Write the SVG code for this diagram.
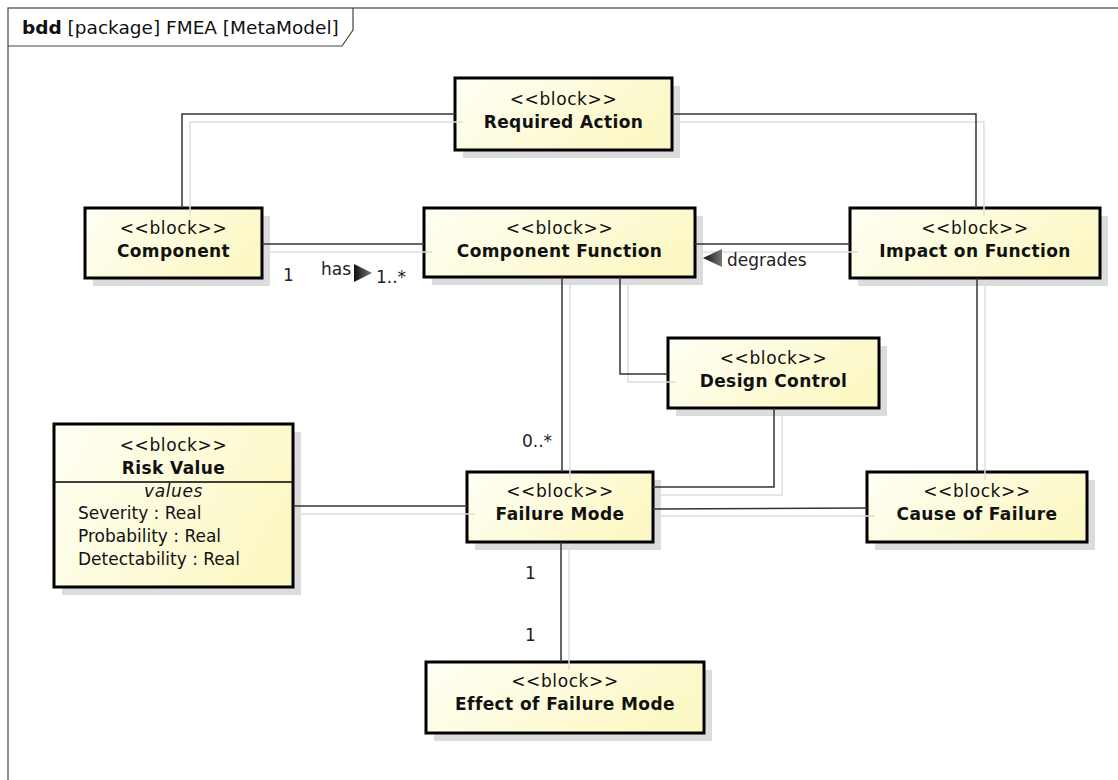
<svg xmlns="http://www.w3.org/2000/svg" width="1118" height="780" viewBox="0 0 1118 780">
<style>
.shadow{fill:#dcdcdc;stroke:none}
.box{fill:url(#g);stroke:#000;stroke-width:3}
.st{font-family:"DejaVu Sans",sans-serif;font-size:17px;fill:#111;text-anchor:middle;letter-spacing:0.6px}
.nm{font-family:"DejaVu Sans",sans-serif;font-size:17px;font-weight:bold;fill:#111;text-anchor:middle;letter-spacing:0.4px}
.at{font-family:"DejaVu Sans",sans-serif;font-size:17px;fill:#111}
.lb{font-family:"DejaVu Sans",sans-serif;font-size:17px;fill:#222}
.ln{fill:none;stroke:#333;stroke-width:1.5}
.ls{fill:none;stroke:#dedede;stroke-width:1.5}
</style>
<defs>
<linearGradient id="g" x1="0" y1="0" x2="1" y2="0.4">
<stop offset="0" stop-color="#fffff6"/>
<stop offset="1" stop-color="#fcf8c6"/>
</linearGradient>
<linearGradient id="tg" x1="0" y1="0" x2="1" y2="0">
<stop offset="0" stop-color="#111"/>
<stop offset="1" stop-color="#777"/>
</linearGradient>
</defs>
<rect width="1118" height="780" fill="#fff"/>
<g id="frame">
<rect x="8" y="8" width="1130" height="790" fill="none" stroke="#444" stroke-width="1.2"/>
<path d="M8,46 H342 L353,30 V8" fill="none" stroke="#444" stroke-width="1.2"/>
<text x="22" y="34" font-family="DejaVu Sans,sans-serif" font-size="18.5" fill="#111"><tspan font-weight="bold">bdd</tspan> [package] FMEA [MetaModel]</text>
</g>
<g id="node-required-action">
<rect class="shadow" x="463" y="86" width="217" height="72"/>
<rect class="box" x="455" y="78" width="217" height="72"/>
<text class="st" x="563.5" y="105">&lt;&lt;block&gt;&gt;</text>
<text class="nm" x="563.5" y="128">Required Action</text>
</g>
<g id="node-component">
<rect class="shadow" x="93" y="216" width="177" height="70"/>
<rect class="box" x="85" y="208" width="177" height="70"/>
<text class="st" x="173.5" y="234">&lt;&lt;block&gt;&gt;</text>
<text class="nm" x="173.5" y="257">Component</text>
</g>
<g id="node-component-function">
<rect class="shadow" x="432" y="216" width="271" height="69"/>
<rect class="box" x="424" y="208" width="271" height="69"/>
<text class="st" x="559.5" y="234">&lt;&lt;block&gt;&gt;</text>
<text class="nm" x="559.5" y="257">Component Function</text>
</g>
<g id="node-impact-on-function">
<rect class="shadow" x="858" y="216" width="250" height="70"/>
<rect class="box" x="850" y="208" width="250" height="70"/>
<text class="st" x="975" y="234">&lt;&lt;block&gt;&gt;</text>
<text class="nm" x="975" y="257">Impact on Function</text>
</g>
<g id="node-design-control">
<rect class="shadow" x="676" y="346" width="211" height="70"/>
<rect class="box" x="668" y="338" width="211" height="70"/>
<text class="st" x="773.5" y="364">&lt;&lt;block&gt;&gt;</text>
<text class="nm" x="773.5" y="387">Design Control</text>
</g>
<g id="node-risk-value">
<rect class="shadow" x="62" y="432" width="239" height="163"/>
<rect class="box" x="54" y="424" width="239" height="163"/>
<line x1="54" y1="482" x2="293" y2="482" stroke="#000" stroke-width="1.5"/>
<text class="st" x="173.5" y="451">&lt;&lt;block&gt;&gt;</text>
<text class="nm" x="173.5" y="474">Risk Value</text>
<text class="st" x="173.5" y="497" font-style="italic">values</text>
<text class="at" x="78" y="519">Severity : Real</text>
<text class="at" x="78" y="542">Probability : Real</text>
<text class="at" x="78" y="565">Detectability : Real</text>
</g>
<g id="node-failure-mode">
<rect class="shadow" x="475" y="480" width="186" height="70"/>
<rect class="box" x="467" y="472" width="186" height="70"/>
<text class="st" x="560" y="497">&lt;&lt;block&gt;&gt;</text>
<text class="nm" x="560" y="520">Failure Mode</text>
</g>
<g id="node-cause-of-failure">
<rect class="shadow" x="875" y="480" width="220" height="70"/>
<rect class="box" x="867" y="472" width="220" height="70"/>
<text class="st" x="977" y="497">&lt;&lt;block&gt;&gt;</text>
<text class="nm" x="977" y="520">Cause of Failure</text>
</g>
<g id="node-effect-of-failure-mode">
<rect class="shadow" x="434" y="670" width="278" height="71"/>
<rect class="box" x="426" y="662" width="278" height="71"/>
<text class="st" x="565" y="687">&lt;&lt;block&gt;&gt;</text>
<text class="nm" x="565" y="710">Effect of Failure Mode</text>
</g>
<g id="connectors">
<path class="ls" d="M190,216 V122 H463"/>
<path class="ls" d="M680,122 H984 V216"/>
<path class="ls" d="M270,252 H432"/>
<path class="ls" d="M703,252 H858"/>
<path class="ls" d="M570,285 V480"/>
<path class="ls" d="M628,285 V382 H676"/>
<path class="ls" d="M782,416 V495 H661"/>
<path class="ls" d="M985,286 V480"/>
<path class="ls" d="M661,516 H875"/>
<path class="ls" d="M301,514 H475"/>
<path class="ls" d="M569,550 V670"/>
<path class="ln" d="M182,208 V114 H455"/>
<path class="ln" d="M672,114 H976 V208"/>
<path class="ln" d="M262,244 H424"/>
<path class="ln" d="M695,244 H850"/>
<path class="ln" d="M562,277 V472"/>
<path class="ln" d="M620,277 V374 H668"/>
<path class="ln" d="M774,408 V487 H653"/>
<path class="ln" d="M977,278 V472"/>
<path class="ln" d="M653,509 L867,508"/>
<path class="ln" d="M293,506 H467"/>
<path class="ln" d="M561,542 V662"/>
<text class="lb" x="283" y="281">1</text>
<text class="lb" x="321" y="275">has</text>
<polygon points="354,264 372,273 354,282" fill="url(#tg)"/>
<text class="lb" x="376" y="283">1..*</text>
<polygon points="703,258 722,249 722,267" fill="url(#tg)"/>
<text class="lb" x="727" y="266">degrades</text>
<text class="lb" x="522" y="447">0..*</text>
<text class="lb" x="525" y="579">1</text>
<text class="lb" x="525" y="641">1</text>
</g>
</svg>
